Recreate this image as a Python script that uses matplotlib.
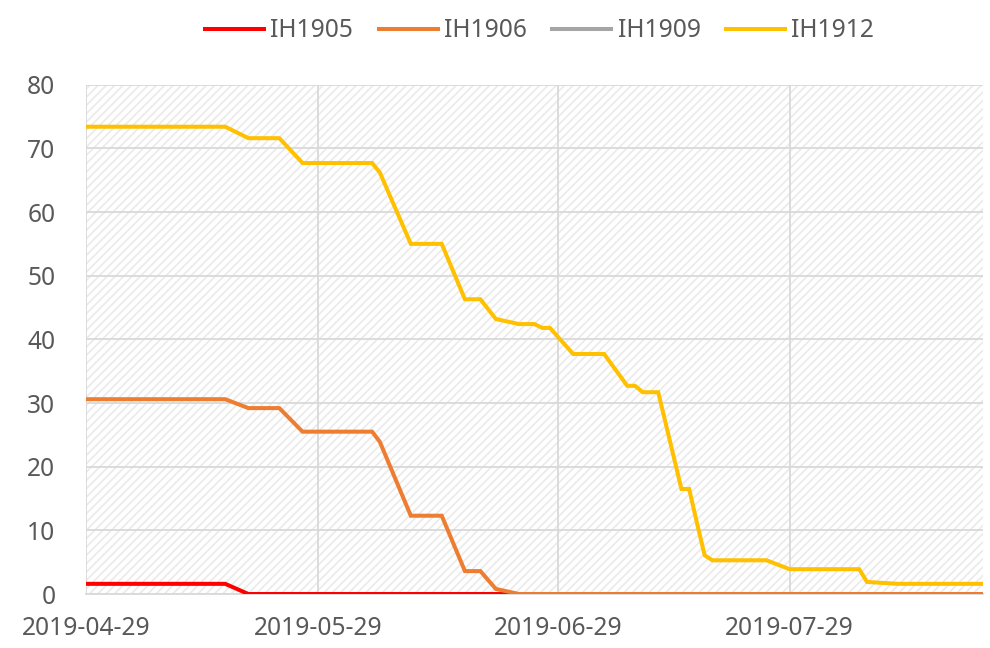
import pandas as pd
import matplotlib
matplotlib.use("Agg")
import matplotlib.pyplot as plt
import matplotlib.dates as mdates
from matplotlib.patches import Rectangle

# break points of each series (trading days where the line changes slope)
ih1912_dates = ["2019-04-29", "2019-05-17", "2019-05-20", "2019-05-24", "2019-05-27",
                "2019-06-05", "2019-06-06", "2019-06-10", "2019-06-14", "2019-06-17",
                "2019-06-19", "2019-06-21", "2019-06-24", "2019-06-26", "2019-06-27",
                "2019-06-28", "2019-07-01", "2019-07-05", "2019-07-08", "2019-07-09",
                "2019-07-10", "2019-07-12", "2019-07-15", "2019-07-16", "2019-07-17",
                "2019-07-18", "2019-07-19", "2019-07-26", "2019-07-29", "2019-08-07",
                "2019-08-08", "2019-08-12", "2019-08-23"]
ih1912_values = [73.4, 73.4, 71.6, 71.6, 67.7,
                 67.7, 66.2, 55.0, 55.0, 46.3,
                 46.3, 43.2, 42.4, 42.4, 41.8,
                 41.8, 37.7, 37.7, 32.7, 32.7,
                 31.7, 31.7, 16.5, 16.5, 11.2,
                 6.1, 5.3, 5.3, 3.9, 3.9,
                 1.9, 1.6, 1.6]

ih1906_dates = ["2019-04-29", "2019-05-17", "2019-05-20", "2019-05-24", "2019-05-27",
                "2019-06-05", "2019-06-06", "2019-06-10", "2019-06-14", "2019-06-17",
                "2019-06-19", "2019-06-21", "2019-06-24", "2019-08-23"]
ih1906_values = [30.6, 30.6, 29.2, 29.2, 25.5,
                 25.5, 23.9, 12.3, 12.3, 3.6,
                 3.6, 0.8, 0.0, 0.0]

ih1905_dates = ["2019-04-29", "2019-05-17", "2019-05-20", "2019-08-23"]
ih1905_values = [1.6, 1.6, 0.0, 0.0]

# IH1909 has no visible line in the chart, only its legend entry
ih1909_dates = []
ih1909_values = []

tick_dates = ["2019-04-29", "2019-05-29", "2019-06-29", "2019-07-29"]

series = [
    ("IH1905", ih1905_dates, ih1905_values, "#FF0000"),
    ("IH1906", ih1906_dates, ih1906_values, "#ED7D31"),
    ("IH1909", ih1909_dates, ih1909_values, "#A5A5A5"),
    ("IH1912", ih1912_dates, ih1912_values, "#FFC000"),
]

text_color = "#595959"
grid_color = "#d9d9d9"

plt.rcParams["font.family"] = ["Noto Sans", "DejaVu Sans"]
plt.rcParams["hatch.linewidth"] = 1.3

fig = plt.figure(figsize=(9.9, 6.48), dpi=100)
ax = fig.add_axes([0.0869, 0.0833, 0.906, 0.786])

# light diagonal pattern fill of the plot area
ax.add_patch(Rectangle((0, 0), 1, 1, transform=ax.transAxes, facecolor="white",
                       edgecolor="#ebebeb", hatch="////", linewidth=0, zorder=0))

for name, d, v, c in series:
    ax.plot(pd.to_datetime(d), v, color=c, linewidth=2.9, label=name,
            solid_joinstyle="miter", zorder=3)

ax.set_xlim(pd.Timestamp("2019-04-29"), pd.Timestamp("2019-08-23"))
ax.set_ylim(0, 80)
ax.set_yticks(range(0, 81, 10))
ax.set_xticks(pd.to_datetime(tick_dates))
ax.xaxis.set_major_formatter(mdates.DateFormatter("%Y-%m-%d"))

ax.grid(True, color=grid_color, linewidth=1.3, zorder=1)
ax.set_axisbelow(True)
for s in ["top", "right", "left"]:
    ax.spines[s].set_visible(False)
ax.spines["bottom"].set_color(grid_color)
ax.spines["bottom"].set_linewidth(1.3)

ax.tick_params(axis="both", length=0, labelsize=17.7, labelcolor=text_color)
ax.tick_params(axis="y", pad=22)
ax.tick_params(axis="x", pad=16)

fig.legend(loc="upper center", bbox_to_anchor=(0.545, 1.006), ncol=4, frameon=False,
           fontsize=17.7, labelcolor=text_color, handlelength=2.4, handletextpad=0.25,
           columnspacing=1.05)

fig.savefig("out.png", dpi=100)
